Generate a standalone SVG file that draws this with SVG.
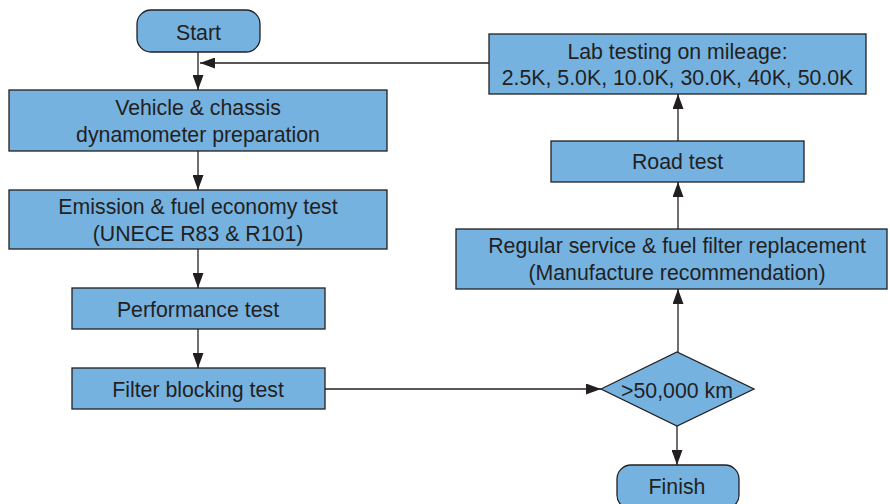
<svg xmlns="http://www.w3.org/2000/svg" width="890" height="504" viewBox="0 0 890 504">
<defs>
<style>
.n{fill:#75b2e0;stroke:#231f20;stroke-width:1.3}
.t{font-family:"Liberation Sans",Arial,sans-serif;font-size:21.3px;fill:#231f20;text-anchor:middle}
.c{fill:none;stroke:#231f20;stroke-width:1.3}
</style>
<marker id="ah" viewBox="0 0 15 11" refX="15" refY="5.5" markerWidth="15" markerHeight="11" markerUnits="userSpaceOnUse" orient="auto">
<path d="M0,0 L15,5.5 L0,11 Z" fill="#231f20"/>
</marker>
</defs>
<rect width="890" height="504" fill="#fff"/>
<g id="connectors">
<path class="c" d="M198,52 V90" marker-end="url(#ah)"/>
<path class="c" d="M489,63 H200" marker-end="url(#ah)"/>
<path class="c" d="M198,151 V190" marker-end="url(#ah)"/>
<path class="c" d="M198,249 V288" marker-end="url(#ah)"/>
<path class="c" d="M198,329 V368" marker-end="url(#ah)"/>
<path class="c" d="M325,389 H601" marker-end="url(#ah)"/>
<path class="c" d="M677,426 V465" marker-end="url(#ah)"/>
<path class="c" d="M678,352 V289" marker-end="url(#ah)"/>
<path class="c" d="M678,229 V182" marker-end="url(#ah)"/>
<path class="c" d="M678,141 V94" marker-end="url(#ah)"/>
</g>
<g id="start">
<rect class="n" x="137" y="10" width="123" height="42" rx="14"/>
<text class="t" x="198.5" y="39.5">Start</text>
</g>
<g id="vehicle">
<rect class="n" x="9" y="90" width="378" height="61"/>
<text class="t" x="198" y="115">Vehicle &amp; chassis</text>
<text class="t" x="198" y="142">dynamometer preparation</text>
</g>
<g id="emission">
<rect class="n" x="9" y="190" width="378" height="59"/>
<text class="t" x="198" y="214">Emission &amp; fuel economy test</text>
<text class="t" x="198" y="241">(UNECE R83 &amp; R101)</text>
</g>
<g id="performance">
<rect class="n" x="72" y="288" width="253" height="41"/>
<text class="t" x="198" y="317">Performance test</text>
</g>
<g id="filter">
<rect class="n" x="72" y="368" width="253" height="41"/>
<text class="t" x="198" y="397">Filter blocking test</text>
</g>
<g id="decision">
<path class="n" d="M601,389 L677,352 L754,389 L677,426 Z"/>
<text class="t" x="677" y="397.5">&gt;50,000 km</text>
</g>
<g id="finish">
<rect class="n" x="617" y="465" width="122" height="44" rx="14"/>
<text class="t" x="677" y="494">Finish</text>
</g>
<g id="service">
<rect class="n" x="456" y="229" width="431" height="60"/>
<text class="t" x="677" y="253">Regular service &amp; fuel filter replacement</text>
<text class="t" x="677" y="280">(Manufacture recommendation)</text>
</g>
<g id="road">
<rect class="n" x="551" y="141" width="253" height="41"/>
<text class="t" x="677.5" y="169">Road test</text>
</g>
<g id="lab">
<rect class="n" x="489" y="34" width="377" height="60"/>
<text class="t" x="677.5" y="59">Lab testing on mileage:</text>
<text class="t" x="677.5" y="85">2.5K, 5.0K, 10.0K, 30.0K, 40K, 50.0K</text>
</g>
</svg>
